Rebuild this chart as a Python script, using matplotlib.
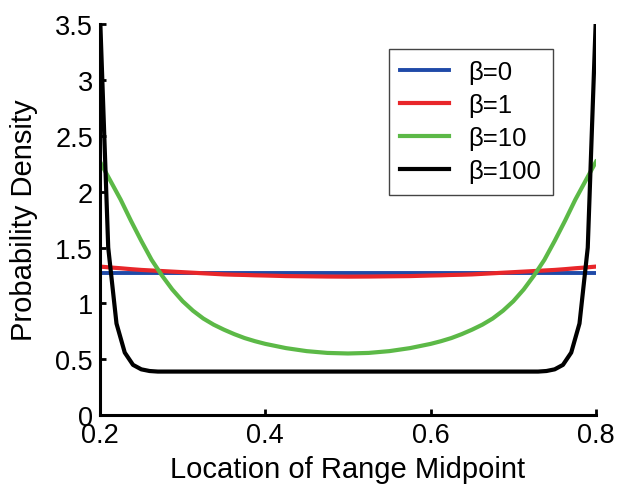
import matplotlib as mpl
mpl.use('Agg')
import matplotlib.pyplot as plt
import numpy as np

# location of range midpoint
x_smooth = [0.200, 0.2125, 0.225, 0.2375, 0.250, 0.2625, 0.275, 0.2875, 0.300, 0.3125, 0.325,
            0.3375, 0.350, 0.3625, 0.375, 0.3875, 0.400, 0.425, 0.450, 0.475,
            0.500, 0.525, 0.550, 0.575, 0.600, 0.6125, 0.625, 0.6375, 0.650, 0.6625, 0.675,
            0.6875, 0.700, 0.7125, 0.725, 0.7375, 0.750, 0.7625, 0.775, 0.7875, 0.800]
beta0 = [1.275] * len(x_smooth)
beta1 = [1.33, 1.322, 1.315, 1.307, 1.30, 1.295, 1.29, 1.285, 1.28, 1.275, 1.27,
         1.265, 1.26, 1.257, 1.255, 1.252, 1.25, 1.245, 1.243, 1.241,
         1.24, 1.241, 1.243, 1.245, 1.25, 1.252, 1.255, 1.257, 1.26, 1.265, 1.27,
         1.275, 1.28, 1.285, 1.29, 1.295, 1.30, 1.307, 1.315, 1.322, 1.33]
beta10 = [2.27, 2.10, 1.93, 1.74, 1.56, 1.39, 1.25, 1.125, 1.02, 0.935, 0.865,
          0.81, 0.765, 0.725, 0.69, 0.662, 0.638, 0.60, 0.573, 0.557,
          0.552, 0.557, 0.573, 0.60, 0.638, 0.662, 0.69, 0.725, 0.765, 0.81, 0.865,
          0.935, 1.02, 1.125, 1.25, 1.39, 1.56, 1.74, 1.93, 2.10, 2.27]

x_sharp = [0.20, 0.21, 0.22, 0.23, 0.24, 0.25, 0.26, 0.27, 0.30, 0.40, 0.50, 0.60, 0.70,
           0.73, 0.74, 0.75, 0.76, 0.77, 0.78, 0.79, 0.80]
beta100 = [3.6, 1.5, 0.82, 0.56, 0.45, 0.41, 0.395, 0.39, 0.39, 0.39, 0.39, 0.39, 0.39,
           0.39, 0.395, 0.41, 0.45, 0.56, 0.82, 1.5, 3.6]

plt.rcParams['font.family'] = ['Liberation Sans', 'DejaVu Sans']

fig = plt.figure(figsize=(6.17, 4.85), dpi=100)
ax = fig.add_axes([0.162, 0.142, 0.804, 0.806])

ax.plot(x_smooth, beta0, color='#1f4aa8', lw=2.8, label='β=0')
ax.plot(x_smooth, beta1, color='#e8262a', lw=3, label='β=1')
ax.plot(x_smooth, beta10, color='#5cb947', lw=3, label='β=10')
ax.plot(x_sharp, beta100, color='black', lw=3, label='β=100')

ax.set_xlim(0.2, 0.8)
ax.set_ylim(0, 3.5)
ax.set_xticks([0.2, 0.4, 0.6, 0.8])
ax.set_xticklabels(['0.2', '0.4', '0.6', '0.8'])
ax.set_yticks([0, 0.5, 1, 1.5, 2, 2.5, 3, 3.5])
ax.set_yticklabels(['0', '0.5', '1', '1.5', '2', '2.5', '3', '3.5'])
ax.tick_params(direction='in', length=4, width=2, labelsize=19.5, pad=5)

ax.spines['top'].set_visible(False)
ax.spines['right'].set_visible(False)
ax.spines['left'].set_linewidth(2.2)
ax.spines['bottom'].set_linewidth(2.2)

ax.set_xlabel('Location of Range Midpoint', fontsize=21, labelpad=5)
ax.set_ylabel('Probability Density', fontsize=21, labelpad=12)

leg = ax.legend(loc='upper left', bbox_to_anchor=(0.567, 0.957), fontsize=18.5,
                fancybox=False, edgecolor='#444444', handlelength=1.9,
                handletextpad=0.75, borderpad=0.45, borderaxespad=0.3,
                labelspacing=0.35, framealpha=1)
leg.get_frame().set_linewidth(1)

fig.savefig('out.png', dpi=100)
plt.close(fig)
